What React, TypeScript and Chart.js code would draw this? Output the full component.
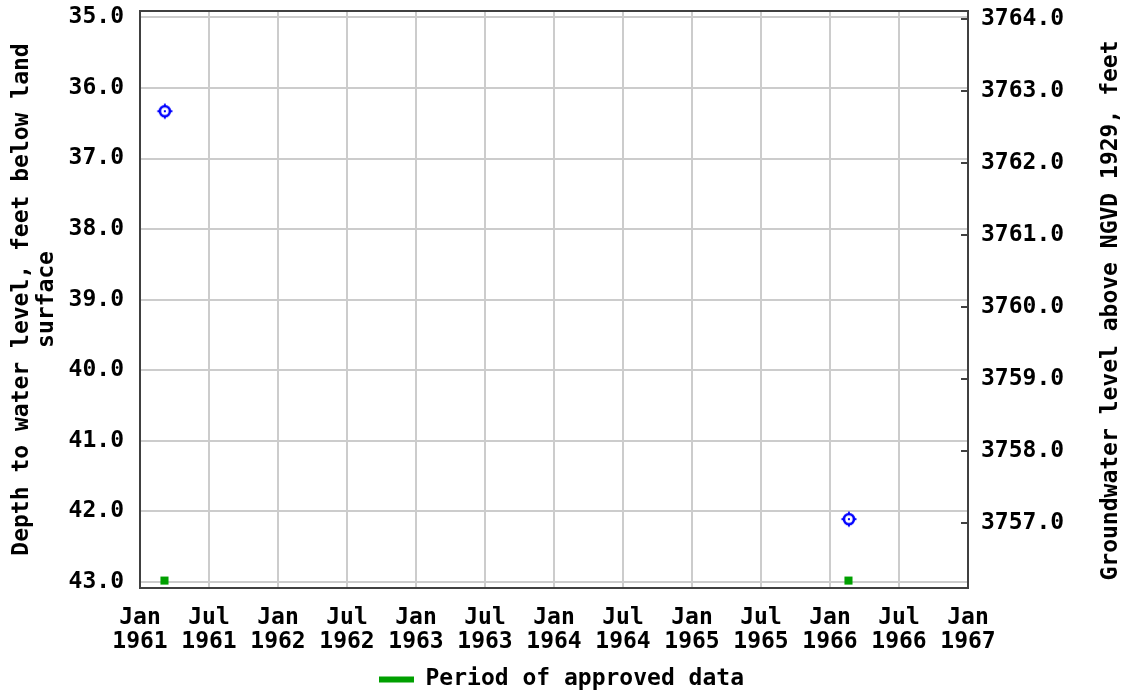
import React, { useEffect, useRef } from 'react';
import { Chart, registerables } from 'chart.js';

Chart.register(...registerables);

// ---- data ----
const measuredDates = ['1961-03-06', '1966-02-19'];
const depthValues = [36.33, 42.11];
const approvedDates = ['1961-03-05', '1966-02-18'];
const approvedDepth = [42.98, 42.98];

const depthRange = [34.91, 43.085];
const elevationRange = [3756.093, 3764.111];
const monthRange = [0, 72]; // months since Jan 1961
const baseYear = 1961;
const tickMonthNames = ['Jan', 'Jul'];

const leftTitle = ['Depth to water level, feet below land', 'surface'];
const rightTitle = 'Groundwater level above NGVD 1929, feet';
const legendLabel = 'Period of approved data';

const FONT_FAMILY = '"DejaVu Sans Mono", "Liberation Mono", monospace';
const FONT_SIZE = 23;
const BOTTOM_PAD = -9;

function toMonths(s: string): number {
  const [y, m, d] = s.split('-').map(Number);
  const dim = new Date(y, m, 0).getDate();
  return (y - baseYear) * 12 + (m - 1) + (d - 1) / dim;
}

function makeMarker(): HTMLCanvasElement {
  const c = document.createElement('canvas');
  c.width = 18;
  c.height = 18;
  const g = c.getContext('2d')!;
  g.strokeStyle = '#0000ff';
  g.fillStyle = '#0000ff';
  g.lineWidth = 2.6;
  g.beginPath();
  g.arc(9, 9, 5, 0, Math.PI * 2);
  g.stroke();
  g.fillRect(8, 1.5, 2, 3);
  g.fillRect(8, 13.5, 2, 3);
  g.fillRect(1.5, 8, 3, 2);
  g.fillRect(13.5, 8, 3, 2);
  g.fillRect(8, 8, 2, 2);
  return c;
}

const framePlugin = {
  id: 'frameAndExtras',
  beforeDatasetsDraw(chart: any) {
    const { ctx, chartArea } = chart;
    ctx.save();
    ctx.strokeStyle = '#404040';
    ctx.lineWidth = 2;
    ctx.strokeRect(chartArea.left, chartArea.top, chartArea.right - chartArea.left, chartArea.bottom - chartArea.top);
    // right-axis tick marks drawn inside the frame
    const s = chart.scales.y2;
    s.ticks.forEach((t: any) => {
      const py = Math.round(s.getPixelForValue(t.value));
      ctx.beginPath();
      ctx.moveTo(chartArea.right - 7, py);
      ctx.lineTo(chartArea.right, py);
      ctx.stroke();
    });
    ctx.restore();
  },
  afterDraw(chart: any) {
    const { ctx, chartArea } = chart;
    ctx.save();
    ctx.fillStyle = '#000';
    ctx.font = `bold ${FONT_SIZE}px ${FONT_FAMILY}`;
    ctx.textAlign = 'center';
    ctx.textBaseline = 'middle';
    ctx.translate(chart.width - 12, (chartArea.top + chartArea.bottom) / 2 + 11);
    ctx.rotate(-Math.PI / 2);
    ctx.fillText(rightTitle, 0, 0);
    ctx.restore();
  },
};

export default function App() {
  const ref = useRef<HTMLCanvasElement>(null);

  useEffect(() => {
    if (!ref.current) return;
    const marker = makeMarker();
    const font = { family: FONT_FAMILY, size: FONT_SIZE, weight: 'bold' as const };
    const gridColor = '#cccccc';

    const chart = new Chart(ref.current, {
      type: 'scatter',
      data: {
        datasets: [
          {
            label: 'Measured',
            data: measuredDates.map((d, i) => ({ x: toMonths(d), y: depthValues[i] })),
            yAxisID: 'y',
            pointStyle: marker as any,
            pointRadius: 8,
            backgroundColor: '#0000ff',
            borderColor: '#0000ff',
          },
          {
            label: legendLabel,
            data: approvedDates.map((d, i) => ({ x: toMonths(d), y: approvedDepth[i] })),
            yAxisID: 'y',
            pointStyle: 'rect',
            pointRadius: 5.7,
            borderWidth: 0,
            backgroundColor: '#00a000',
            borderColor: '#00a000',
          },
        ],
      },
      options: {
        responsive: false,
        animation: false,
        events: [],
        layout: { padding: { top: 11, left: 0, right: 0, bottom: BOTTOM_PAD } },
        plugins: {
          tooltip: { enabled: false },
          legend: {
            position: 'bottom',
            labels: {
              filter: (item: any) => item.text === legendLabel,
              boxWidth: 35,
              boxHeight: 6,
              padding: 4,
              color: '#000',
              font,
            },
          },
        },
        scales: {
          x: {
            type: 'linear',
            position: 'bottom',
            min: monthRange[0],
            max: monthRange[1],
            ticks: {
              stepSize: 6,
              includeBounds: false,
              color: '#000',
              padding: 18,
              maxRotation: 0,
              autoSkip: false,
              font: { ...font, lineHeight: 1.05 },
              callback: (v: any) => [tickMonthNames[(v % 12) / 6], String(baseYear + Math.floor(v / 12))],
            },
            grid: { color: gridColor, lineWidth: 2, drawTicks: false },
            border: { display: false },
            afterFit: (s: any) => {
              const lh = s.chart.legend ? s.chart.legend.height : 0;
              s.height = 692 - BOTTOM_PAD - 588 - lh;
              s.paddingLeft = 0;
              s.paddingRight = 0;
            },
          },
          y: {
            type: 'linear',
            position: 'left',
            reverse: true,
            min: depthRange[0],
            max: depthRange[1],
            ticks: {
              stepSize: 1,
              includeBounds: false,
              color: '#000',
              padding: 16,
              font: { ...font, lineHeight: 1 },
              callback: (v: any) => Number(v).toFixed(1),
            },
            grid: { color: gridColor, lineWidth: 2, drawTicks: false },
            border: { display: false },
            title: {
              display: true,
              text: leftTitle,
              color: '#000',
              font: { ...font, lineHeight: 1.1 },
              padding: { top: 9, bottom: 0 },
            },
            afterFit: (s: any) => {
              s.width = 140;
              s.paddingTop = 0;
              s.paddingBottom = 0;
            },
          },
          y2: {
            type: 'linear',
            position: 'right',
            min: elevationRange[0],
            max: elevationRange[1],
            ticks: {
              stepSize: 1,
              includeBounds: false,
              color: '#000',
              padding: 13,
              font: { ...font, lineHeight: 1 },
              callback: (v: any) => Number(v).toFixed(1),
            },
            grid: { drawOnChartArea: false, drawTicks: false },
            border: { display: false },
            afterFit: (s: any) => {
              s.width = 155;
              s.paddingTop = 0;
              s.paddingBottom = 0;
            },
          },
        },
      },
      plugins: [framePlugin],
    } as any);

    return () => chart.destroy();
  }, []);

  return (
    <div style={{ position: 'fixed', left: 0, top: 0, width: 1123, height: 692, background: '#fff' }}>
      <canvas ref={ref} width={1123} height={692} style={{ width: 1123, height: 692, display: 'block' }} />
    </div>
  );
}
